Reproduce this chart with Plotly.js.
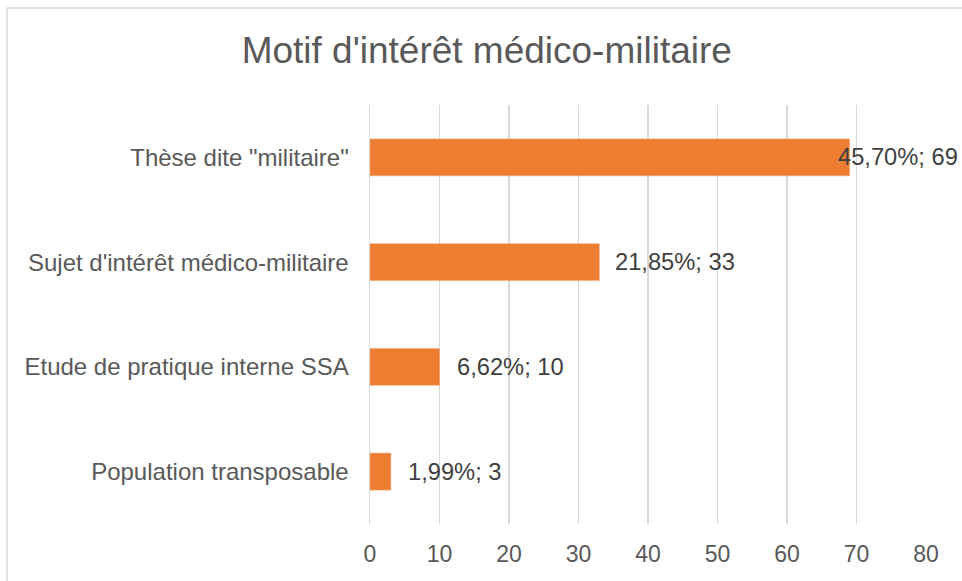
<!DOCTYPE html>
<html>
<head>
<meta charset="utf-8">
<script src="https://cdn.plot.ly/plotly-3.0.1.min.js"></script>
<style>
  html, body { margin: 0; padding: 0; background: #ffffff; }
  #chart { width: 962px; height: 581px; }
</style>
</head>
<body>
<div id="chart"></div>
<script>
// Data (top to bottom as shown)
const categories = ["Thèse dite \"militaire\"", "Sujet d'intérêt médico-militaire", "Etude de pratique interne SSA", "Population transposable"];
const counts = [69, 33, 10, 3];
const percents = ["45,70%", "21,85%", "6,62%", "1,99%"];
const labelShift = [-14, 14, 15, 15];
const xTicks = [0, 10, 20, 30, 40, 50, 60, 70, 80];

const labels = percents.map((p, i) => p + "; " + counts[i]);

const trace = {
  type: "bar",
  orientation: "h",
  y: categories,
  x: counts,
  marker: { color: "#ED7D31", line: { color: "#F4A36E", width: 0.5 } },
  hoverinfo: "none"
};

const annotations = categories.map((c, i) => ({
  x: counts[i],
  y: c,
  xref: "x",
  yref: "y",
  text: labels[i],
  showarrow: false,
  xanchor: "left",
  yanchor: "middle",
  xshift: labelShift[i],
  font: { family: "Liberation Sans, Arial, sans-serif", size: 23.7, color: "#404040" }
}));

const shapes = [{
  type: "rect",
  xref: "paper", yref: "paper",
  x0: -0.653, x1: 1.2, y0: -0.3, y1: 1.2315,
  line: { color: "#D9D9D9", width: 1.5 },
  fillcolor: "rgba(0,0,0,0)",
  layer: "below"
}];

const layout = {
  width: 962,
  height: 581,
  margin: { l: 370, r: 36, t: 105, b: 57, pad: 0 },
  paper_bgcolor: "#ffffff",
  plot_bgcolor: "#ffffff",
  showlegend: false,
  bargap: 0.647,
  title: {
    text: "Motif d'intérêt médico-militaire",
    font: { family: "Liberation Sans, Arial, sans-serif", size: 37, color: "#595959" },
    x: 0.506, xanchor: "center",
    y: 0.914, yanchor: "middle"
  },
  xaxis: {
    range: [0, 80],
    tickvals: xTicks,
    ticktext: xTicks.map(String),
    showgrid: true,
    gridcolor: "#D9D9D9",
    gridwidth: 1.5,
    zeroline: false,
    showline: false,
    ticks: "",
    ticklabelstandoff: 14,
    tickfont: { family: "Liberation Sans, Arial, sans-serif", size: 23, color: "#595959" },
    fixedrange: true
  },
  yaxis: {
    autorange: "reversed",
    showgrid: false,
    zeroline: false,
    showline: true,
    linecolor: "#D9D9D9",
    linewidth: 1.5,
    ticks: "",
    ticklabelstandoff: 15,
    tickfont: { family: "Liberation Sans, Arial, sans-serif", size: 24, color: "#595959" },
    fixedrange: true
  },
  annotations: annotations,
  shapes: shapes
};

Plotly.newPlot("chart", [trace], layout, { displayModeBar: false, staticPlot: true });
</script>
</body>
</html>
